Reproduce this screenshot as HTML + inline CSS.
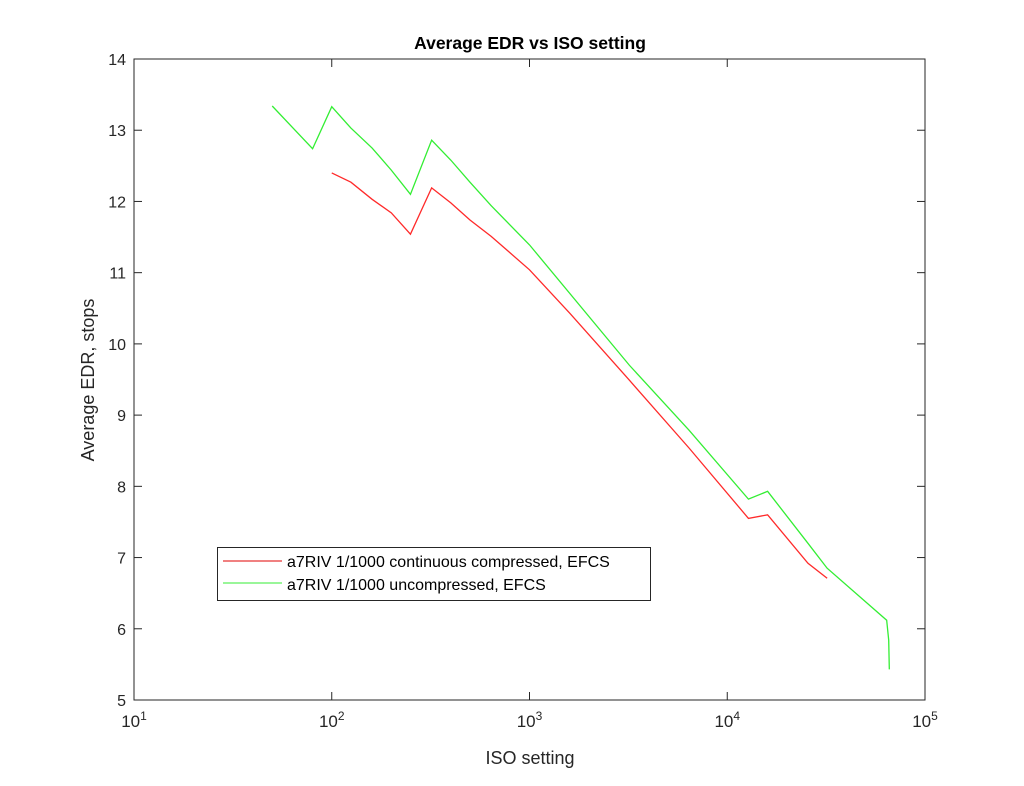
<!DOCTYPE html>
<html><head><meta charset="utf-8"><style>
body{margin:0;background:#fff;}
svg{display:block;font-family:"Liberation Sans",sans-serif;}
</style></head><body>
<svg id="chart" width="1024" height="786" xmlns="http://www.w3.org/2000/svg">
<rect width="1024" height="786" fill="#fff"/>
<text x="530" y="49" text-anchor="middle" font-size="17.5" font-weight="bold" fill="#000">Average EDR vs ISO setting</text>
<rect x="134" y="59" width="791" height="641" fill="#fff" stroke="#262626" stroke-width="1"/>
<g id="xticks"></g>
<g id="yticks"></g>
<text x="530" y="764" text-anchor="middle" font-size="18" fill="#262626">ISO setting</text>
<text transform="translate(94,380) rotate(-90)" text-anchor="middle" font-size="18" fill="#262626">Average EDR, stops</text>
<g id="series"></g>
<g>
<rect x="217.5" y="547.5" width="433" height="53" fill="#fff" stroke="#262626" stroke-width="1"/>
<line x1="223" y1="561" x2="282" y2="561" stroke="#e00000" stroke-width="1"/>
<text x="287" y="567" font-size="16" fill="#000">a7RIV 1/1000 continuous compressed, EFCS</text>
<line x1="223" y1="583" x2="282" y2="583" stroke="#33ee33" stroke-width="1"/>
<text x="287" y="590" font-size="16" fill="#000">a7RIV 1/1000 uncompressed, EFCS</text>
</g>
</svg>
<script>
const redIso=[100,125,160,200,250,320,400,500,640,1000,1600,3200,6400,12800,16000,25600,32000];
const redEdr=[12.40,12.27,12.03,11.84,11.54,12.19,11.98,11.74,11.51,11.04,10.43,9.49,8.54,7.55,7.60,6.92,6.71];
const greenIso=[50,80,100,125,160,200,250,320,400,500,640,1000,3200,6400,12800,16000,25600,32000,64000,65536,66000];
const greenEdr=[13.34,12.74,13.33,13.03,12.75,12.44,12.10,12.86,12.58,12.27,11.94,11.39,9.70,8.79,7.82,7.93,7.20,6.85,6.12,5.84,5.43];
const xTickExp=[1,2,3,4,5];
const yTicks=[5,6,7,8,9,10,11,12,13,14];
const L=134,R=925,T=59,B=700;
const xs=v=>L+(Math.log10(v)-1)/4*(R-L);
const ys=v=>B-(v-5)/9*(B-T);
const NS="http://www.w3.org/2000/svg";
function mk(tag,attrs,parent){const e=document.createElementNS(NS,tag);for(const k in attrs)e.setAttribute(k,attrs[k]);parent.appendChild(e);return e;}
const xg=document.getElementById('xticks'),yg=document.getElementById('yticks'),sg=document.getElementById('series');
xTickExp.forEach(p=>{const x=xs(Math.pow(10,p));
mk('line',{x1:x,y1:B,x2:x,y2:B-8,stroke:'#262626'},xg);
mk('line',{x1:x,y1:T,x2:x,y2:T+8,stroke:'#262626'},xg);
const t=mk('text',{x:x,y:B+27,'text-anchor':'middle','font-size':17,fill:'#262626'},xg);


t.textContent='10';
const s=mk('tspan',{dy:-7,'font-size':12},t);s.textContent=p;});
yTicks.forEach(v=>{const y=ys(v);
mk('line',{x1:L,y1:y,x2:L+8,y2:y,stroke:'#262626'},yg);
mk('line',{x1:R,y1:y,x2:R-8,y2:y,stroke:'#262626'},yg);
const t=mk('text',{x:L-8,y:y+6,'text-anchor':'end','font-size':16,fill:'#262626'},yg);


t.textContent=v;});
function line(iso,edr,color,name){const p=mk('polyline',{points:iso.map((v,i)=>xs(v)+','+ys(edr[i])).join(' '),fill:'none',stroke:color,'stroke-width':1.3},sg);

}
line(redIso,redEdr,'#ff2a2a','series-compressed');
line(greenIso,greenEdr,'#33ee33','series-uncompressed');
</script>
</body></html>
